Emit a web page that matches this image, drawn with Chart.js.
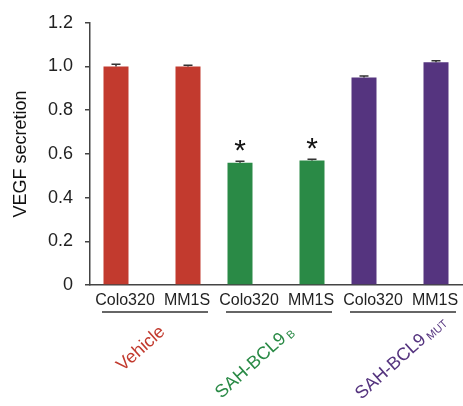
<!DOCTYPE html>
<html>
<head>
<meta charset="utf-8">
<script src="https://cdn.jsdelivr.net/npm/chart.js@4.4.1/dist/chart.umd.min.js"></script>
<style>
  html, body { margin: 0; padding: 0; background: #fff; }
  canvas { display: block; }
</style>
</head>
<body>
<canvas id="c" width="463" height="406"></canvas>
<script>
// ---- data ----
const groups = ['Vehicle', 'SAH-BCL9', 'SAH-BCL9'];
const groupSubs = ['', 'B', 'MUT'];
const cellLines = ['Colo320', 'MM1S'];
const colo320 = [1.00, 0.56, 0.95];
const mm1s = [1.00, 0.57, 1.02];
const colo320Err = [0.010, 0.006, 0.006];
const mm1sErr = [0.006, 0.005, 0.006];
const colo320Sig = [false, true, false];
const mm1sSig = [false, true, false];
const yTickValues = [0, 0.2, 0.4, 0.6, 0.8, 1.0, 1.2];

// ---- styles ----
const groupColors = ['#C23A2E', '#2A8A46', '#55347F'];
const FONT = "'Liberation Sans', Arial, sans-serif";
const labelStyles = [
  { dx: 14, dy: 48, angle: 42 },
  { dx: 11, dy: 55, angle: 42 },
  { dx: 27, dy: 56, angle: 42 }
];

const groupKeys = groups.map((g, i) => g + (groupSubs[i] ? ' ' + groupSubs[i] : ''));
const barLabels = [];
groups.forEach(() => cellLines.forEach(c => barLabels.push(c)));

const errs = [colo320Err, mm1sErr];
const sigs = [colo320Sig, mm1sSig];

const extras = {
  id: 'extras',
  afterDatasetsDraw(chart) {
    const ctx = chart.ctx;
    const y = chart.scales.y;
    chart.data.datasets.forEach((ds, di) => {
      const meta = chart.getDatasetMeta(di);
      meta.data.forEach((el, i) => {
        const v = ds.data[i];
        const top = y.getPixelForValue(v + errs[di][i]);
        ctx.save();
        ctx.strokeStyle = '#333';
        ctx.lineWidth = 1.5;
        ctx.beginPath();
        ctx.moveTo(el.x, el.y);
        ctx.lineTo(el.x, top);
        ctx.moveTo(el.x - 4.5, top);
        ctx.lineTo(el.x + 4.5, top);
        ctx.stroke();
        if (sigs[di][i]) {
          ctx.fillStyle = '#111';
          ctx.font = '30px ' + FONT;
          ctx.textAlign = 'center';
          ctx.textBaseline = 'alphabetic';
          ctx.fillText('*', el.x, top - 1);
        }
        ctx.restore();
      });
    });
  },
  afterDraw(chart) {
    const ctx = chart.ctx;
    const x = chart.scales.x;
    const bottom = chart.chartArea.bottom;
    groups.forEach((g, i) => {
      const cx = x.getPixelForValue(i);
      ctx.save();
      // group underline
      ctx.strokeStyle = '#333';
      ctx.lineWidth = 1.5;
      ctx.beginPath();
      ctx.moveTo(cx - 50, bottom + 27);
      ctx.lineTo(cx + 56, bottom + 27);
      ctx.stroke();
      // rotated group label
      const st = labelStyles[i];
      ctx.translate(cx + st.dx, bottom + st.dy);
      ctx.rotate(-st.angle * Math.PI / 180);
      ctx.fillStyle = groupColors[i];
      ctx.font = '18px ' + FONT;
      ctx.textAlign = 'right';
      ctx.textBaseline = 'alphabetic';
      ctx.fillText(g, 0, 0);
      if (groupSubs[i]) {
        ctx.font = '11px ' + FONT;
        ctx.textAlign = 'left';
        ctx.fillText(groupSubs[i], 3, 2);
      }
      ctx.restore();
    });
  }
};

new Chart(document.getElementById('c'), {
  type: 'bar',
  data: {
    labels: groupKeys,
    datasets: [
      { label: cellLines[0], data: colo320, backgroundColor: groupColors, borderWidth: 0,
        categoryPercentage: 144 / 124, barPercentage: 25 / 72 },
      { label: cellLines[1], data: mm1s, backgroundColor: groupColors, borderWidth: 0,
        categoryPercentage: 144 / 124, barPercentage: 25 / 72 }
    ]
  },
  options: {
    responsive: false,
    animation: false,
    layout: { padding: { top: 22, right: 1, bottom: 99, left: 0 } },
    plugins: { legend: { display: false }, tooltip: { enabled: false } },
    scales: {
      x: {
        type: 'category',
        position: 'bottom',
        weight: 0,
        grid: { display: false },
        border: { display: true, color: '#444', width: 1.5 },
        ticks: { display: false },
        afterFit(s) { s.height = 0; }
      },
      x2: {
        type: 'category',
        position: 'bottom',
        weight: 1,
        labels: barLabels,
        offset: true,
        grid: { display: false },
        border: { display: false },
        ticks: { color: '#222', font: { family: FONT, size: 16 }, padding: -2,
                 maxRotation: 0, autoSkip: false, labelOffset: 4 },
        afterFit(s) { s.height = 22; }
      },
      y: {
        min: 0,
        max: 1.2,
        afterBuildTicks(s) { s.ticks = yTickValues.map(v => ({ value: v })); },
        grid: { display: true, drawOnChartArea: false, drawTicks: true, tickLength: 5, color: '#444', lineWidth: 1.5 },
        border: { display: true, color: '#444', width: 1.5 },
        ticks: {
          color: '#222',
          font: { family: FONT, size: 18 },
          padding: 12,
          callback: v => (v === 0 ? '0' : Number(v).toFixed(1))
        },
        title: { display: true, text: 'VEGF secretion', color: '#111',
                 font: { family: FONT, size: 18 }, padding: { top: 10, bottom: 0 } },
        afterFit(s) { s.width = 90; }
      }
    }
  },
  plugins: [extras]
});
</script>
</body>
</html>
